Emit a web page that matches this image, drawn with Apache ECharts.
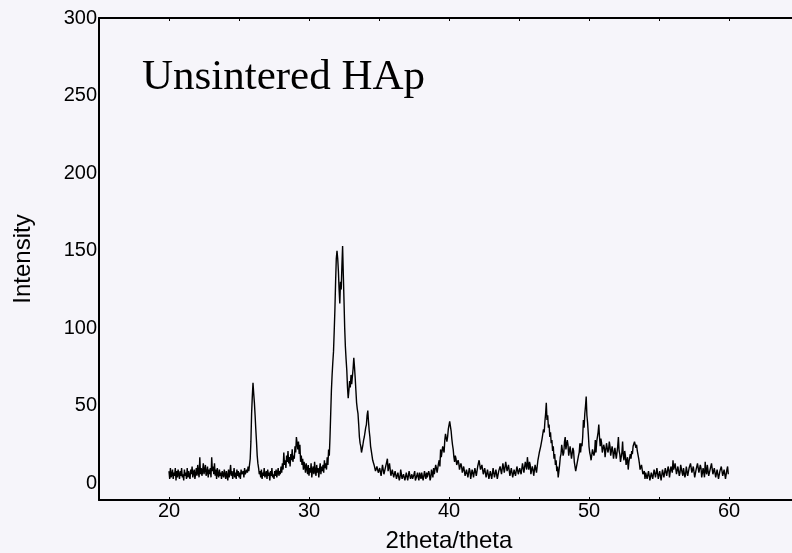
<!DOCTYPE html>
<html>
<head>
<meta charset="utf-8">
<script src="https://cdn.jsdelivr.net/npm/echarts@6/dist/echarts.min.js"></script>
<style>
  html, body { margin: 0; padding: 0; background: #f6f5fa; }
  #chart { width: 792px; height: 553px; }
</style>
</head>
<body>
<div id="chart"></div>
<script>
// scan settings: 2theta from 20 to 60, one reading every 0.05 deg
var twoThetaStart = 20;
var twoThetaStep = 0.05;

// intensity, one row per degree
var intensity = [
  8, 3, 10, 4, 6, 9, 3, 7, 5, 10, 2, 8, 4, 9, 6, 3, 8, 5, 10, 4,              // 20
  6, 2, 9, 5, 7, 3, 10, 4, 8, 5, 3, 9, 6, 11, 4, 7, 9, 3, 6, 10,              // 21
  5, 12, 7, 4, 17, 6, 10, 5, 8, 13, 6, 9, 12, 5, 7, 11, 4, 9, 6, 10,          // 22
  4, 17, 8, 11, 6, 13, 5, 9, 3, 10, 6, 4, 9, 5, 7, 3, 8, 6, 4, 9,             // 23
  6, 3, 8, 5, 2, 9, 4, 7, 12, 5, 8, 3, 6, 10, 4, 7, 3, 9, 5, 8,               // 24
  4, 7, 3, 9, 6, 5, 8, 4, 10, 6, 5, 9, 7, 11, 8, 12, 16, 27, 45, 56,          // 25
  65, 58, 52, 44, 35, 27, 18, 13, 10, 6, 8, 4, 9, 3, 7, 5, 10, 4, 6, 8,       // 26
  3, 9, 5, 7, 2, 8, 5, 10, 4, 6, 3, 8, 5, 9, 4, 7, 10, 5, 8, 6,               // 27
  11, 7, 13, 9, 20, 12, 15, 10, 18, 14, 21, 13, 17, 11, 19, 15, 22, 14, 18, 16, // 28
  24, 20, 30, 26, 22, 27, 19, 25, 14, 18, 12, 16, 9, 14, 11, 7, 13, 10, 6, 12,  // 29
  5, 10, 7, 13, 4, 9, 11, 6, 14, 8, 5, 12, 7, 10, 4, 9, 13, 6, 11, 8,           // 30
  12, 7, 15, 10, 13, 9, 17, 12, 22, 18, 30, 45, 60, 70, 78, 85, 98, 112, 130, 145,      // 31
  150, 145, 137, 125, 116, 130, 125, 140, 153, 135, 118, 100, 88, 80, 73, 62, 55, 60, 66, 62, // 32
  70, 64, 65, 74, 81, 75, 68, 60, 52, 48, 45, 38, 30, 26, 24, 20, 21, 25, 28, 30, // 33
  33, 36, 38, 44, 47, 40, 34, 30, 24, 21, 18, 15, 14, 12, 11, 8, 8, 11, 10, 7,    // 34
  6, 10, 9, 5, 5, 12, 11, 6, 7, 10, 9, 14, 16, 8, 8, 13, 12, 5, 6, 9,             // 35
  9, 4, 5, 8, 7, 3, 3, 7, 6, 2, 4, 9, 8, 3, 2, 6, 5, 2, 3, 7,                     // 36
  6, 2, 2, 8, 7, 3, 4, 6, 3, 2, 6, 8, 2, 3, 5, 7, 4, 2, 7, 5,                     // 37
  3, 7, 6, 2, 2, 8, 5, 3, 7, 4, 3, 8, 6, 2, 4, 9, 8, 4, 10, 6,                    // 38
  6, 12, 10, 7, 8, 13, 15, 11, 22, 17, 18, 24, 25, 20, 28, 32, 33, 27, 30, 35,    // 39
  36, 40, 40, 34, 29, 25, 22, 17, 14, 18, 16, 12, 11, 15, 13, 9, 9, 13, 11, 7,    // 40
  7, 11, 10, 5, 5, 9, 9, 4, 4, 10, 8, 3, 3, 9, 7, 4, 5, 10, 9, 5,                 // 41
  6, 11, 10, 15, 16, 9, 8, 12, 11, 6, 6, 10, 9, 4, 4, 9, 8, 3, 3, 8,              // 42
  7, 3, 4, 10, 9, 4, 5, 9, 8, 3, 3, 8, 7, 11, 10, 6, 6, 13, 12, 7,                // 43
  8, 14, 14, 8, 7, 12, 11, 5, 5, 10, 9, 4, 4, 9, 8, 5, 6, 11, 10, 6,              // 44
  5, 10, 9, 6, 7, 13, 12, 7, 8, 14, 13, 9, 17, 12, 9, 14, 12, 6, 7, 11,           // 45
  9, 5, 6, 12, 11, 7, 8, 15, 14, 20, 19, 24, 23, 29, 28, 35, 33, 40, 45, 52,      // 46
  41, 44, 36, 38, 30, 33, 26, 28, 21, 24, 16, 19, 12, 15, 8, 11, 4, 8, 12, 17,    // 47
  19, 25, 24, 18, 20, 27, 30, 22, 22, 28, 25, 18, 18, 24, 23, 16, 17, 23, 21, 14, // 48
  14, 8, 7, 13, 12, 18, 20, 26, 20, 26, 24, 30, 41, 36, 45, 50, 56, 44, 39, 32,   // 49
  24, 20, 18, 15, 15, 22, 22, 18, 20, 28, 20, 27, 26, 33, 38, 30, 24, 29, 26, 20, // 50
  20, 25, 23, 17, 18, 26, 26, 20, 22, 27, 24, 18, 19, 24, 21, 16, 17, 23, 22, 16, // 51
  16, 24, 30, 21, 19, 14, 14, 20, 27, 18, 15, 21, 18, 12, 12, 17, 9, 14, 14, 19,  // 52
  16, 21, 19, 24, 23, 27, 27, 23, 25, 21, 20, 16, 13, 9, 9, 12, 11, 6, 5, 8,      // 53
  3, 7, 8, 3, 4, 8, 7, 2, 2, 7, 6, 3, 4, 9, 8, 4, 5, 10, 9, 3,                    // 54
  4, 8, 7, 2, 3, 9, 8, 4, 5, 10, 10, 5, 6, 11, 9, 4, 5, 11, 11, 7,                // 55
  15, 9, 8, 13, 12, 6, 6, 11, 10, 5, 7, 12, 13, 7, 5, 10, 9, 4, 6, 11,            // 56
  11, 5, 5, 10, 9, 13, 12, 7, 6, 11, 10, 4, 4, 9, 8, 13, 13, 7, 7, 12,            // 57
  10, 4, 5, 10, 9, 4, 14, 8, 6, 12, 11, 5, 4, 9, 8, 13, 12, 6, 5, 10,             // 58
  9, 4, 4, 9, 8, 3, 3, 8, 7, 11, 10, 5, 5, 9, 8, 3, 3, 9, 11, 6,                  // 59
  6                                                                               // 60
];

var xTickLabels = [20, 30, 40, 50, 60];
var xTicks = [15, 20, 25, 30, 35, 40, 45, 50, 55, 60];
var yTickLabels = [0, 50, 100, 150, 200, 250, 300];

var points = intensity.map(function (v, i) {
  return [+(twoThetaStart + i * twoThetaStep).toFixed(2), v];
});

var myChart = echarts.init(document.getElementById("chart"));

var sansFont = "Liberation Sans, Arial, sans-serif";

myChart.setOption({
  backgroundColor: "#f6f5fa",
  animation: false,
  grid: {
    left: 99,
    right: 0,
    top: 18,
    bottom: 53,
    containLabel: false,
    outerBoundsMode: "none"
  },
  graphic: [
    {
      type: "text",
      left: 142,
      top: 56,
      style: {
        text: "Unsintered HAp",
        font: "43px 'Liberation Serif', 'Times New Roman', serif",
        fill: "#000"
      }
    }
  ],
  xAxis: [
    {
      type: "value",
      position: "bottom",
      min: 15,
      max: 64.5,
      name: "2theta/theta",
      nameLocation: "middle",
      nameGap: 29,
      nameTextStyle: { color: "#000", fontSize: 24, fontFamily: sansFont, padding: [0, 0, 0, 7] },
      axisLine: { onZero: false, lineStyle: { color: "#000", width: 2 } },
      axisTick: { show: true, inside: true, length: 3, customValues: xTicks, lineStyle: { color: "#000" } },
      axisLabel: { customValues: xTickLabels, margin: 1, color: "#000", fontSize: 20, fontFamily: sansFont },
      splitLine: { show: false }
    },
    {
      type: "value",
      position: "top",
      min: 15,
      max: 64.5,
      axisLine: { onZero: false, lineStyle: { color: "#000", width: 2 } },
      axisTick: { show: true, inside: true, length: 3, customValues: xTicks, lineStyle: { color: "#000" } },
      axisLabel: { show: false },
      splitLine: { show: false }
    }
  ],
  yAxis: {
    type: "value",
    min: -10.6,
    max: 300,
    name: "Intensity",
    nameLocation: "middle",
    nameGap: 64,
    nameTextStyle: { color: "#000", fontSize: 24, fontFamily: sansFont },
    axisLine: { show: true, onZero: false, lineStyle: { color: "#000", width: 2 } },
    axisTick: { show: false },
    axisLabel: { customValues: yTickLabels, margin: 2, color: "#000", fontSize: 20, fontFamily: sansFont },
    splitLine: { show: false }
  },
  series: [
    {
      type: "line",
      data: points,
      showSymbol: false,
      symbol: "none",
      sampling: null,
      lineStyle: { color: "#000", width: 1.4 }
    }
  ]
});
</script>
</body>
</html>
